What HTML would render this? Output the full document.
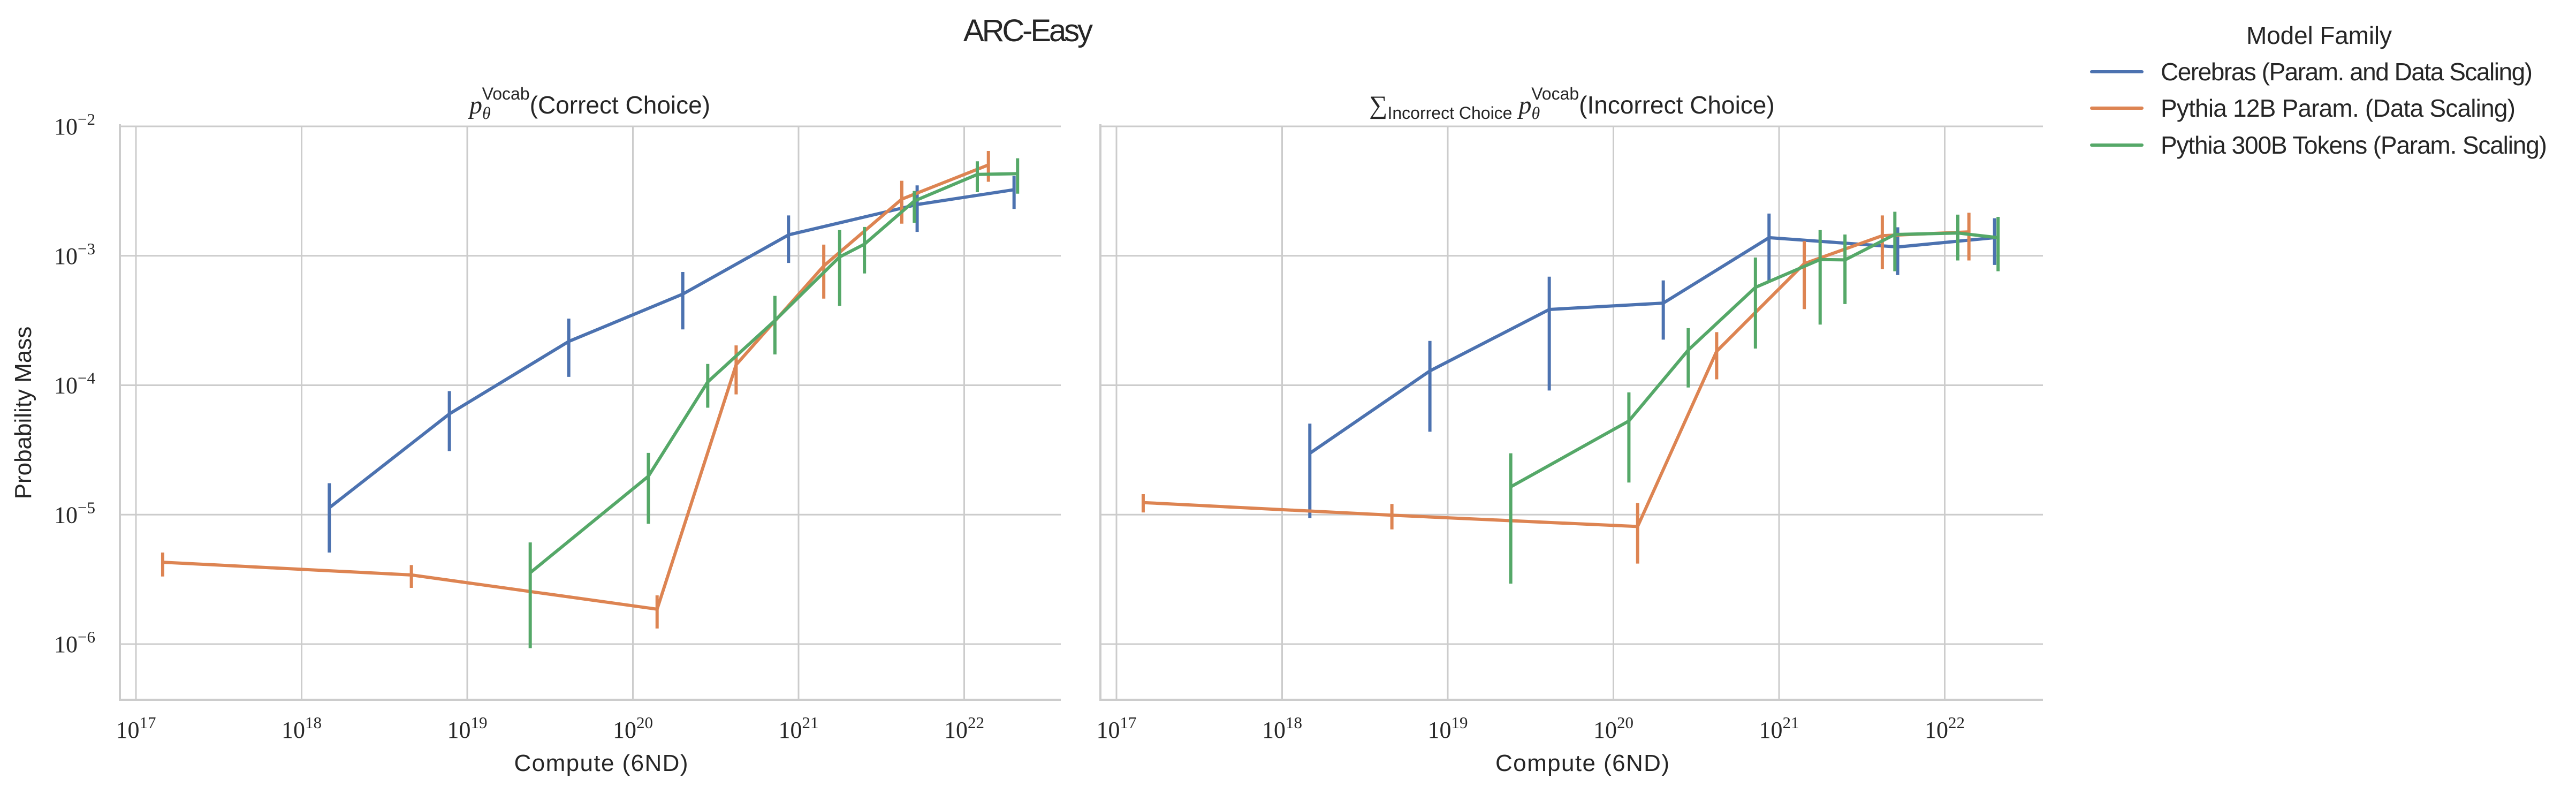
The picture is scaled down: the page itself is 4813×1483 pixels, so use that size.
<!DOCTYPE html>
<html><head><meta charset="utf-8">
<style>
html,body{margin:0;padding:0;background:#fff;}
svg{display:block;}
text{fill:#262626;}
.sans{font-family:"Liberation Sans",sans-serif;}
.serif{font-family:"Liberation Serif",serif;}
</style></head>
<body>
<svg id="fig" width="4813" height="1483" viewBox="0 0 4813 1483" xmlns="http://www.w3.org/2000/svg">
<rect width="4813" height="1483" fill="#fff"/>
<text class="sans" x="1921" y="77" font-size="58" text-anchor="middle" textLength="242">ARC-Easy</text>
<g id="legend">
  <text class="sans" x="4333" y="82" font-size="46" text-anchor="middle" textLength="272">Model Family</text>
</g>
</svg>
<script>
// ---- data (shared x per family) ----
var cerebrasX = [1.47e18, 7.8e18, 4.1e19, 2.0e20, 8.7e20, 5.2e21, 2.0e22];
var pythia12X = [1.45e17, 4.6e18, 1.4e20, 4.2e20, 1.42e21, 4.2e21, 1.4e22];
var pythia300X = [2.4e19, 1.24e20, 2.83e20, 7.2e20, 1.77e21, 2.5e21, 5.0e21, 1.2e22, 2.1e22];

// left panel: correct choice
var correctCerebras = [1.13e-5, 6.0e-5, 2.18e-4, 5.06e-4, 1.45e-3, 2.49e-3, 3.24e-3];
var correctCerebrasLo = [5.1e-6, 3.1e-5, 1.16e-4, 2.7e-4, 8.8e-4, 1.53e-3, 2.3e-3];
var correctCerebrasHi = [1.75e-5, 9.0e-5, 3.27e-4, 7.5e-4, 2.05e-3, 3.5e-3, 4.14e-3];
var correctPythia12 = [4.29e-6, 3.42e-6, 1.86e-6, 1.44e-4, 8.35e-4, 2.74e-3, 5.03e-3];
var correctPythia12Lo = [3.33e-6, 2.72e-6, 1.32e-6, 8.5e-5, 4.67e-4, 1.77e-3, 3.73e-3];
var correctPythia12Hi = [5.1e-6, 4.08e-6, 2.38e-6, 2.03e-4, 1.22e-3, 3.8e-3, 6.45e-3];
var correctPythia300 = [3.56e-6, 1.98e-5, 1.06e-4, 3.16e-4, 9.8e-4, 1.23e-3, 2.65e-3, 4.25e-3, 4.31e-3];
var correctPythia300Lo = [9.3e-7, 8.5e-6, 6.7e-5, 1.73e-4, 4.1e-4, 7.3e-4, 1.8e-3, 3.1e-3, 3.02e-3];
var correctPythia300Hi = [6.1e-6, 3.0e-5, 1.46e-4, 4.9e-4, 1.58e-3, 1.67e-3, 3.17e-3, 5.37e-3, 5.67e-3];

// right panel: incorrect choices
var incorrectCerebras = [2.98e-5, 1.29e-4, 3.85e-4, 4.31e-4, 1.38e-3, 1.17e-3, 1.38e-3];
var incorrectCerebrasLo = [9.4e-6, 4.37e-5, 9.1e-5, 2.25e-4, 6.4e-4, 7.1e-4, 8.5e-4];
var incorrectCerebrasHi = [5.05e-5, 2.2e-4, 6.9e-4, 6.45e-4, 2.12e-3, 1.66e-3, 1.95e-3];
var incorrectPythia12 = [1.24e-5, 9.9e-6, 8.1e-6, 1.83e-4, 8.7e-4, 1.43e-3, 1.53e-3];
var incorrectPythia12Lo = [1.04e-5, 7.7e-6, 4.19e-6, 1.11e-4, 3.87e-4, 7.9e-4, 9.2e-4];
var incorrectPythia12Hi = [1.44e-5, 1.21e-5, 1.23e-5, 2.57e-4, 1.3e-3, 2.05e-3, 2.15e-3];
var incorrectPythia300 = [1.64e-5, 5.3e-5, 1.87e-4, 5.7e-4, 9.35e-4, 9.3e-4, 1.46e-3, 1.5e-3, 1.38e-3];
var incorrectPythia300Lo = [2.93e-6, 1.77e-5, 9.6e-5, 1.92e-4, 2.94e-4, 4.24e-4, 7.6e-4, 9.2e-4, 7.6e-4];
var incorrectPythia300Hi = [2.98e-5, 8.8e-5, 2.76e-4, 9.7e-4, 1.58e-3, 1.46e-3, 2.19e-3, 2.08e-3, 2.0e-3];

var familyNames = ["Cerebras (Param. and Data Scaling)", "Pythia 12B Param. (Data Scaling)", "Pythia 300B Tokens (Param. Scaling)"];
var xTickExps = [17, 18, 19, 20, 21, 22];
var yTickExps = [-2, -3, -4, -5, -6];

var NS = "http://www.w3.org/2000/svg";
var svg = document.getElementById("fig");
var colors = ["#4c72b0", "#dd8452", "#55a868"];

function mk(tag, attrs, parent) {
  var e = document.createElementNS(NS, tag);
  for (var k in attrs) e.setAttribute(k, attrs[k]);
  (parent || svg).appendChild(e);
  return e;
}

var yTop = 236, yDec = 241.75;
var yBottom = 1307;
function yScale(v) { return yTop + (-2 - Math.log10(v)) * yDec; }
function makeX(x17) { return function (v) { return x17 + (Math.log10(v) - 17) * 309.5; }; }

var panels = [
  {left: 224, right: 1982, x17: 254, name: "correct-choice-panel",
   series: [[cerebrasX, correctCerebras, correctCerebrasLo, correctCerebrasHi],
            [pythia12X, correctPythia12, correctPythia12Lo, correctPythia12Hi],
            [pythia300X, correctPythia300, correctPythia300Lo, correctPythia300Hi]]},
  {left: 2056, right: 3817, x17: 2086, name: "incorrect-choice-panel",
   series: [[cerebrasX, incorrectCerebras, incorrectCerebrasLo, incorrectCerebrasHi],
            [pythia12X, incorrectPythia12, incorrectPythia12Lo, incorrectPythia12Hi],
            [pythia300X, incorrectPythia300, incorrectPythia300Lo, incorrectPythia300Hi]]}
];
var seriesKeys = ["cerebras", "pythia-12b", "pythia-300b"];

panels.forEach(function (p, pi) {
  var xs = makeX(p.x17);
  var g = mk("g", {});
  
  
  xTickExps.forEach(function (e) {
    var x = xs(Math.pow(10, e));
    var l = mk("line", {x1: x, x2: x, y1: yTop, y2: yBottom, stroke: "#cccccc", "stroke-width": 3}, g);
    
    
    var t = mk("text", {x: x, y: 1378, "font-size": 44, "text-anchor": "middle", "class": "serif"}, g);
    
    
    t.appendChild(document.createTextNode("10"));
    var s = mk("tspan", {"font-size": 31, dy: -18}, t);
    s.textContent = String(e);
  });
  yTickExps.forEach(function (e) {
    var y = yScale(Math.pow(10, e));
    var l = mk("line", {x1: p.left, x2: p.right, y1: y, y2: y, stroke: "#cccccc", "stroke-width": 3}, g);
    
    
    if (pi === 0) {
      var t = mk("text", {x: 178, y: y + 15, "font-size": 44, "text-anchor": "end", "class": "serif"}, g);
      
      
      t.appendChild(document.createTextNode("10"));
      var s = mk("tspan", {"font-size": 31, dy: -18}, t);
      s.textContent = "\u2212" + String(-e);
    }
  });
  var sp1 = mk("line", {x1: p.left, x2: p.left, y1: yTop - 4, y2: yBottom + 2, stroke: "#cccccc", "stroke-width": 4}, g);
  
  
  var sp2 = mk("line", {x1: p.left - 2, x2: p.right, y1: yBottom, y2: yBottom, stroke: "#cccccc", "stroke-width": 4}, g);
  
  
  var xl = mk("text", {x: (p.left + p.right) / 2 + 20, y: 1440, "font-size": 44, "text-anchor": "middle", "class": "sans", textLength: 325}, g);
  
  
  xl.textContent = "Compute (6ND)";
  p.series.forEach(function (s, si) {
    var pts = s[0].map(function (xv, i) { return xs(xv).toFixed(1) + "," + yScale(s[1][i]).toFixed(1); }).join(" ");
    var pl = mk("polyline", {points: pts, fill: "none", stroke: colors[si], "stroke-width": 6, "stroke-linejoin": "round"}, g);
    
    
    s[0].forEach(function (xv, i) {
      var x = xs(xv);
      var eb = mk("line", {x1: x, x2: x, y1: yScale(s[3][i]), y2: yScale(s[2][i]), stroke: colors[si], "stroke-width": 6}, g);
      
      
    });
  });
});

var t1 = mk("text", {x: 1102, y: 212, "font-size": 48, "text-anchor": "middle", "class": "serif"});


t1.innerHTML = '<tspan font-style="italic">p</tspan><tspan font-size="32" dy="10" font-style="italic">θ</tspan><tspan font-size="32" dy="-36" class="sans" dx="-16">Vocab</tspan><tspan dy="26" class="sans" font-size="46">(Correct Choice)</tspan>';
var t2 = mk("text", {x: 2937, y: 212, "font-size": 48, "text-anchor": "middle", "class": "serif"});


t2.innerHTML = '<tspan>∑</tspan><tspan font-size="32" dy="10" class="sans">Incorrect Choice</tspan><tspan dy="-10" font-style="italic"> p</tspan><tspan font-size="32" dy="10" font-style="italic">θ</tspan><tspan font-size="32" dy="-36" class="sans" dx="-16">Vocab</tspan><tspan dy="26" class="sans" font-size="46">(Incorrect Choice)</tspan>';

var yl = mk("text", {x: 0, y: 0, "font-size": 44, "text-anchor": "middle", "class": "sans", transform: "translate(58,771) rotate(-90)"});


yl.textContent = "Probability Mass";

var leg = document.getElementById("legend");
var legY = [134, 202, 271];
var legW = [695, 663, 722];
familyNames.forEach(function (n, i) {
  var l = mk("line", {x1: 3908, x2: 4002, y1: legY[i], y2: legY[i], stroke: colors[i], "stroke-width": 6, "stroke-linecap": "round"}, leg);
  
  
  var t = mk("text", {x: 4037, y: legY[i] + 16, "font-size": 46, "class": "sans", textLength: legW[i]}, leg);
  
  
  t.textContent = n;
});
</script>
</body></html>
